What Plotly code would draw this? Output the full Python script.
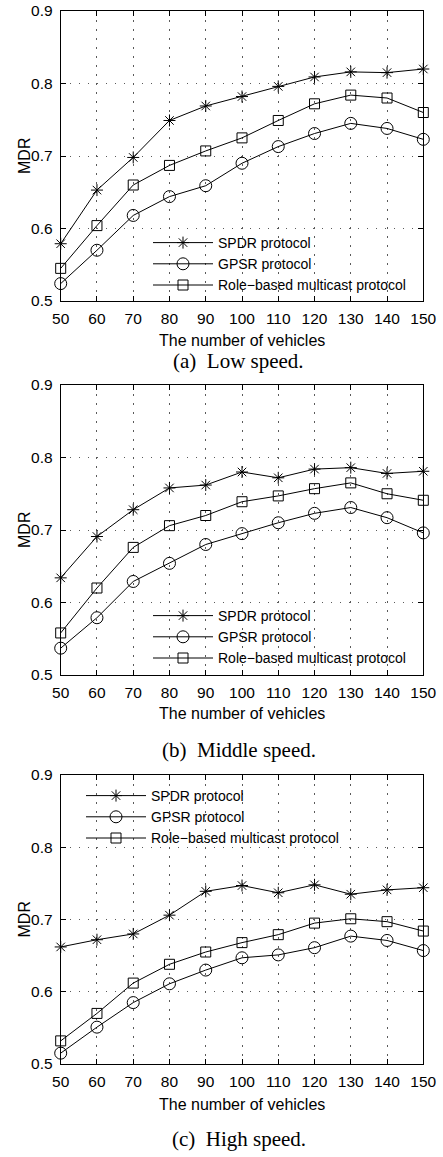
import plotly.graph_objects as go

vehicles = [50, 60, 70, 80, 90, 100, 110, 120, 130, 140, 150]

low_spdr = [0.579, 0.653, 0.698, 0.749, 0.769, 0.782, 0.796, 0.809, 0.816, 0.815, 0.820]
low_gpsr = [0.524, 0.570, 0.618, 0.644, 0.659, 0.690, 0.713, 0.731, 0.745, 0.738, 0.723]
low_role = [0.545, 0.604, 0.660, 0.687, 0.707, 0.725, 0.749, 0.772, 0.784, 0.780, 0.760]

mid_spdr = [0.634, 0.691, 0.728, 0.758, 0.762, 0.780, 0.772, 0.784, 0.786, 0.778, 0.781]
mid_gpsr = [0.537, 0.579, 0.629, 0.654, 0.680, 0.695, 0.710, 0.723, 0.731, 0.717, 0.696]
mid_role = [0.558, 0.620, 0.676, 0.706, 0.720, 0.739, 0.747, 0.757, 0.765, 0.750, 0.741]

high_spdr = [0.662, 0.672, 0.680, 0.706, 0.739, 0.747, 0.737, 0.748, 0.735, 0.741, 0.744]
high_gpsr = [0.515, 0.551, 0.585, 0.611, 0.630, 0.647, 0.651, 0.661, 0.677, 0.671, 0.657]
high_role = [0.532, 0.570, 0.612, 0.638, 0.655, 0.668, 0.679, 0.695, 0.701, 0.697, 0.684]

series_names = ["SPDR protocol", "GPSR protocol", "Role\u2212based multicast protocol"]
captions = ["(a)  Low speed.", "(b)  Middle speed.", "(c)  High speed."]
x_ticks = [50, 60, 70, 80, 90, 100, 110, 120, 130, 140, 150]
y_ticks = [0.5, 0.6, 0.7, 0.8, 0.9]

W, H = 443, 1157
panels = [
    (low_spdr, low_gpsr, low_role),
    (mid_spdr, mid_gpsr, mid_role),
    (high_spdr, high_gpsr, high_role),
]
panel_px = [(11, 301), (385, 675), (775, 1064)]
xtitle_px = [340, 713, 1104]
caption_px = [361, 750, 1139]
legend_pos = [(148, 227), (148, 600), (81, 780)]
x_px = (60.7, 423.3)

symbols = ["asterisk-open", "circle-open", "square-open"]
sizes = [10, 12, 10]
SANS = "Liberation Sans, Arial"

fig = go.Figure()
annotations = []
for i, data in enumerate(panels):
    ax = "" if i == 0 else str(i + 1)
    leg = "legend" if i == 0 else f"legend{i + 1}"
    for j, ys in enumerate(data):
        fig.add_trace(go.Scatter(
            x=vehicles, y=ys, name=series_names[j],
            mode="lines+markers",
            line=dict(color="black", width=1),
            marker=dict(symbol=symbols[j], size=sizes[j], color="black",
                        line=dict(color="black", width=1)),
            xaxis="x" + ax, yaxis="y" + ax, legend=leg, cliponaxis=False,
        ))
    top, bot = panel_px[i]
    axis_common = dict(
        showline=True, linecolor="black", linewidth=1, mirror="ticks",
        ticks="inside", ticklen=5, tickcolor="black", automargin=False,
        showgrid=True, gridcolor="rgb(90,90,90)", griddash="1.5px,7.5px", gridwidth=1,
        zeroline=False,
        tickfont=dict(family=SANS, size=15.5, color="black"),
    )
    fig.update_layout(**{
        "xaxis" + ax: dict(
            domain=[x_px[0] / W, x_px[1] / W], anchor="y" + ax,
            range=[50, 150], tickvals=x_ticks, ticklabelstandoff=3, **axis_common),
        "yaxis" + ax: dict(
            domain=[1 - bot / H, 1 - top / H], anchor="x" + ax,
            range=[0.5, 0.9], tickvals=y_ticks, tickformat=".1f",
            ticklabelstandoff=4, **axis_common),
    })
    lx, ly = legend_pos[i]
    fig.update_layout(**{leg: dict(
        x=lx / W, y=1 - ly / H, xanchor="left", yanchor="top",
        bgcolor="rgba(255,255,255,0)", borderwidth=0,
        font=dict(family=SANS, size=14, color="black"),
        itemwidth=60, tracegroupgap=0,
    )})
    annotations.append(dict(
        text="MDR", xref="paper", yref="paper", textangle=-90,
        x=24 / W, y=1 - (top + bot) / 2 / H,
        xanchor="center", yanchor="middle", showarrow=False,
        font=dict(family=SANS, size=16, color="black")))
    annotations.append(dict(
        text="The number of vehicles", xref="paper", yref="paper",
        x=(x_px[0] + x_px[1]) / 2 / W, y=1 - xtitle_px[i] / H,
        xanchor="center", yanchor="middle", showarrow=False,
        font=dict(family=SANS, size=16, color="black")))
    annotations.append(dict(
        text=captions[i], xref="paper", yref="paper",
        x=239 / W, y=1 - caption_px[i] / H,
        xanchor="center", yanchor="middle", showarrow=False,
        font=dict(family="Liberation Serif, Times New Roman", size=21, color="black")))

fig.update_layout(
    width=W, height=H, margin=dict(l=0, r=0, t=0, b=0),
    paper_bgcolor="white", plot_bgcolor="white",
    annotations=annotations, showlegend=True,
)
fig.write_html("out.html", config={"displayModeBar": False},
               post_script="document.body.style.margin='0';document.body.style.padding='0';")
